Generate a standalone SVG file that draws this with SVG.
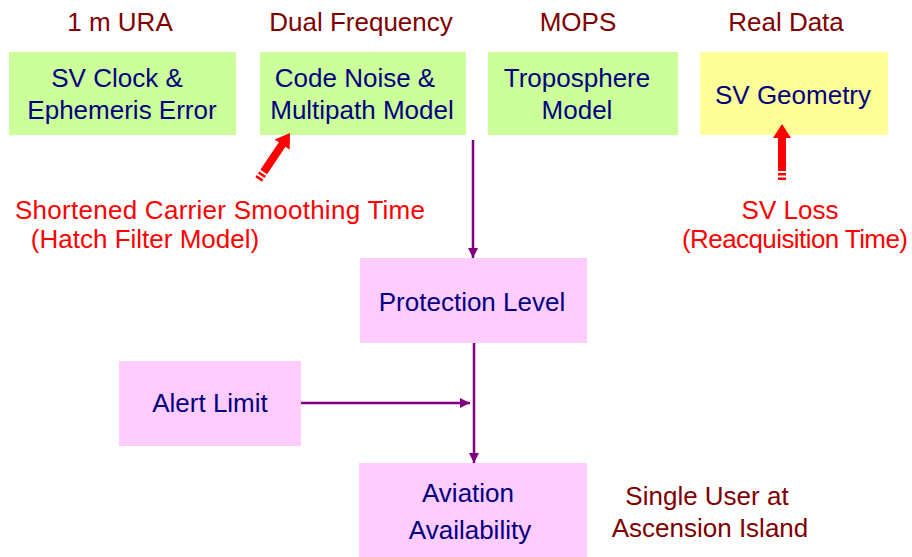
<svg xmlns="http://www.w3.org/2000/svg" width="912" height="557" viewBox="0 0 912 557">
<style>
text{font-family:"Liberation Sans",Arial,sans-serif;font-size:26px;text-anchor:middle}
.hd{fill:#800000}
.nt{fill:#000080}
.rd{fill:#ff0000}
.g{fill:#ccff99}
.y{fill:#ffff99}
.p{fill:#ffccff}
.c{stroke:#800080;stroke-width:2.5;fill:none}
</style>
<defs>
<marker id="ah" viewBox="0 0 10 10" refX="10" refY="5" markerWidth="10" markerHeight="11" markerUnits="userSpaceOnUse" orient="auto">
<path d="M0,0L10,5L0,10z" fill="#800080"/>
</marker>
<g id="bigarrow" fill="#ff0000">
<path d="M0,0L9,14L4,14L4,47L-4,47L-4,14L-9,14z"/>
<rect x="-4" y="49" width="8" height="2.5"/>
<rect x="-4" y="53.5" width="8" height="2.5"/>
</g>
</defs>
<g id="labels">
<text class="hd" x="120" y="31">1 m URA</text>
<text class="hd" x="361" y="31">Dual Frequency</text>
<text class="hd" x="578" y="31">MOPS</text>
<text class="hd" x="786" y="31">Real Data</text>
<text class="rd" x="220" y="219" textLength="410">Shortened Carrier Smoothing Time</text>
<text class="rd" x="145" y="248">(Hatch Filter Model)</text>
<text class="rd" x="790" y="219">SV Loss</text>
<text class="rd" x="795" y="248" textLength="226">(Reacquisition Time)</text>
<text class="hd" x="707" y="505">Single User at</text>
<text class="hd" x="710" y="537">Ascension Island</text>
</g>
<g id="n1"><rect class="g" x="9" y="52" width="227" height="83"/><text class="nt" x="117" y="87">SV Clock &amp;</text><text class="nt" x="122" y="119">Ephemeris Error</text></g>
<g id="n2"><rect class="g" x="260" y="52" width="206" height="83"/><text class="nt" x="355" y="87">Code Noise &amp;</text><text class="nt" x="362" y="119">Multipath Model</text></g>
<g id="n3"><rect class="g" x="488" y="52" width="190" height="83"/><text class="nt" x="577" y="87">Troposphere</text><text class="nt" x="577" y="119">Model</text></g>
<g id="n4"><rect class="y" x="700" y="52" width="188" height="83"/><text class="nt" x="793" y="104">SV Geometry</text></g>
<g id="n5"><rect class="p" x="360" y="258" width="227" height="85"/><text class="nt" x="472" y="311">Protection Level</text></g>
<g id="n6"><rect class="p" x="119" y="361" width="182" height="85"/><text class="nt" x="210" y="412">Alert Limit</text></g>
<g id="n7"><rect class="p" x="359" y="463" width="228" height="94"/><text class="nt" x="468" y="502">Aviation</text><text class="nt" x="470" y="539">Availability</text></g>
<g id="connectors">
<line class="c" x1="473" y1="140" x2="473" y2="258" marker-end="url(#ah)"/>
<line class="c" x1="474" y1="343" x2="474" y2="463" marker-end="url(#ah)"/>
<line class="c" x1="301" y1="403" x2="470" y2="403" marker-end="url(#ah)"/>
<use href="#bigarrow" transform="translate(290,133) rotate(34)"/>
<use href="#bigarrow" transform="translate(782,124)"/>
</g>
</svg>
